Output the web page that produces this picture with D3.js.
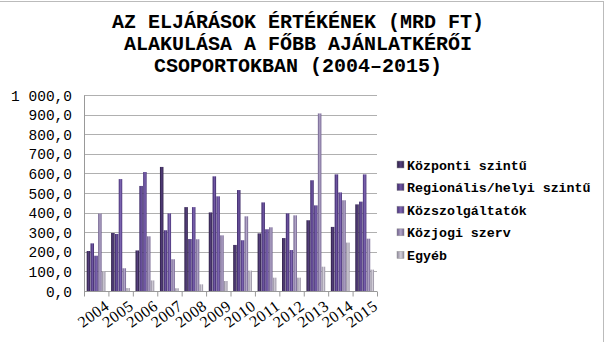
<!DOCTYPE html>
<html>
<head>
<meta charset="utf-8">
<script src="https://cdn.jsdelivr.net/npm/d3@7"></script>
<style>
body { margin: 0; background: #fff; }
svg { display: block; }
</style>
</head>
<body>
<script>
"use strict";
const years = ["2004", "2005", "2006", "2007", "2008", "2009", "2010", "2011", "2012", "2013", "2014", "2015"];
const seriesNames = ["Központi szintű", "Regionális/helyi szintű", "Közszolgáltatók", "Közjogi szerv", "Egyéb"];
const kozponti = [204, 296, 207, 633, 428, 401, 235, 294, 270, 361, 327, 442];
const regionalis = [243, 291, 536, 310, 265, 585, 515, 452, 396, 565, 595, 456];
const kozszolg = [180, 571, 607, 396, 428, 483, 259, 315, 209, 437, 503, 595];
const kozjogi = [395, 116, 279, 162, 264, 284, 381, 325, 386, 906, 463, 267];
const egyeb = [99, 15, 54, 14, 34, 51, 104, 68, 68, 124, 247, 109];
const yTicks = [0, 100, 200, 300, 400, 500, 600, 700, 800, 900, 1000];
const titleLines = ["AZ ELJÁRÁSOK ÉRTÉKÉNEK (MRD FT)", "ALAKULÁSA A FŐBB AJÁNLATKÉRŐI", "CSOPORTOKBAN (2004–2015)"];

const allSeries = [kozponti, regionalis, kozszolg, kozjogi, egyeb];
const colors = [["#2c1f44", "#56407e"], ["#3b2866", "#7057a4"], ["#452f74", "#8068b4"], ["#6c5c8a", "#b2a6c8"], ["#8c8698", "#d4d0da"]];

const w = 605, h = 342;
const pL = 84, pR = 377, pT = 95, pB = 291;

const svg = d3.select("body").append("svg").attr("width", w).attr("height", h);
const defs = svg.append("defs");
colors.forEach((c, i) => {
	const g = defs.append("linearGradient").attr("id", "g" + i).attr("x1", 0).attr("x2", 1).attr("y1", 0).attr("y2", 0);
	g.append("stop").attr("offset", "0%").attr("stop-color", c[0]);
	g.append("stop").attr("offset", "55%").attr("stop-color", c[1]);
	g.append("stop").attr("offset", "100%").attr("stop-color", c[0]);
});

// outer frame
svg.append("line").attr("x1", 0).attr("x2", 604).attr("y1", 1.5).attr("y2", 1.5).attr("stroke", "#bbb");
svg.append("line").attr("x1", 603.5).attr("x2", 603.5).attr("y1", 1).attr("y2", h).attr("stroke", "#bbb");

const title = svg.append("text").attr("text-anchor", "middle")
	.style("font-family", "'Courier New', 'Liberation Mono', monospace").style("font-weight", "bold").style("font-size", "20px");
titleLines.forEach((t, i) => title.append("tspan").attr("x", 298).attr("y", 28 + i * 22).text(t));

const x0 = d3.scaleBand().domain(years).range([pL, pR]).paddingInner(0.22).paddingOuter(0.11);
const x1 = d3.scaleBand().domain(d3.range(5)).range([0, x0.bandwidth()]);
const y = d3.scaleLinear().domain([0, 1000]).range([pB, pT]);

const fmt = v => d3.format(",.1f")(v).replace(/,/g, " ").replace(".", ",");

svg.append("g").selectAll("line").data(yTicks.slice(1)).join("line")
	.attr("x1", pL).attr("x2", pR).attr("y1", d => Math.round(y(d)) + 0.5).attr("y2", d => Math.round(y(d)) + 0.5)
	.attr("stroke", "#b0b0b0");

const yAxis = svg.append("g").attr("transform", "translate(" + (pL - 12) + ",0)")
	.call(d3.axisLeft(y).tickValues(yTicks).tickFormat(fmt).tickSize(0).tickPadding(0));
yAxis.select(".domain").remove();
yAxis.selectAll("text").style("font-family", "'Courier New', 'Liberation Mono', monospace").style("font-size", "14.5px").attr("fill", "#000").attr("dy", "0.35em");

const groups = svg.append("g").selectAll("g").data(years).join("g")
	.attr("transform", d => "translate(" + x0(d) + ",0)");
groups.selectAll("rect").data((d, i) => allSeries.map((s, k) => ({k: k, v: s[i]}))).join("rect")
	.attr("x", d => x1(d.k)).attr("width", x1.bandwidth() - 0.3)
	.attr("y", d => y(d.v)).attr("height", d => y(0) - y(d.v))
	.attr("fill", d => "url(#g" + d.k + ")");

const xAxis = svg.append("g").attr("transform", "translate(0," + (pB + 0.5) + ")");
xAxis.append("line").attr("x1", pL).attr("x2", pR).attr("stroke", "#999");
xAxis.append("line").attr("x1", pL + 0.5).attr("x2", pL + 0.5).attr("y1", -(pB - pT)).attr("y2", 0).attr("stroke", "#999");
xAxis.selectAll(".tk").data(d3.range(years.length + 1)).join("line").attr("class", "tk")
	.attr("x1", i => pL + i * x0.step() + 0.5).attr("x2", i => pL + i * x0.step() + 0.5).attr("y1", 0).attr("y2", 5).attr("stroke", "#999");
xAxis.selectAll("text").data(years).join("text")
	.attr("transform", d => "translate(" + (x0(d) + x0.bandwidth() / 2 + 7) + ",7) rotate(-36)")
	.attr("text-anchor", "end").attr("dy", "0.75em")
	.style("font-family", "'Liberation Serif', serif").style("font-size", "16px").style("letter-spacing", "0.5px")
	.text(d => d);

const legend = svg.append("g").attr("transform", "translate(397,0)");
const li = legend.selectAll("g").data(seriesNames).join("g").attr("transform", (d, i) => "translate(0," + (165 + i * 22.6) + ")");
li.append("rect").attr("x", 0).attr("y", -4).attr("width", 7).attr("height", 7).attr("fill", (d, i) => "url(#g" + i + ")").attr("stroke", "#999").attr("stroke-width", 0.5);
li.append("text").attr("x", 10).attr("y", 0).attr("dy", "0.35em")
	.style("font-family", "'Courier New', 'Liberation Mono', monospace").style("font-weight", "bold").style("font-size", "13.3px")
	.text(d => d);
</script>
</body>
</html>
